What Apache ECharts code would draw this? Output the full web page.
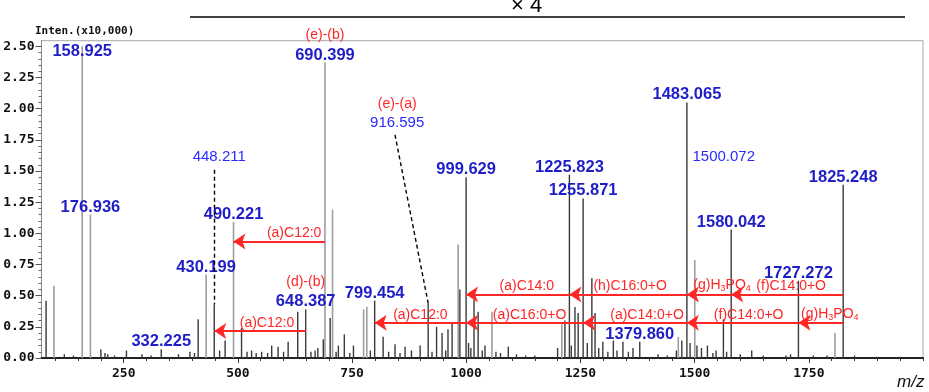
<!DOCTYPE html>
<html>
<head>
<meta charset="utf-8">
<script src="https://cdn.jsdelivr.net/npm/echarts@6/dist/echarts.min.js"></script>
<style>
  html, body { margin: 0; padding: 0; background: #fff; }
  #chart { width: 929px; height: 392px; }
</style>
</head>
<body>
<div id="chart"></div>
<script>
// MS/MS spectrum: m/z against intensity (x10,000)

// light grey peaks
const greyMz  = [97, 158.925, 176.936, 430.199, 490.221, 690.399, 707, 775, 782, 982, 1056, 1209, 1464, 1500.072, 1807];
const greyInt = [0.58, 2.50, 1.15, 0.67, 1.09, 2.37, 1.19, 0.39, 0.41, 0.91, 0.37, 0.27, 0.17, 0.785, 0.20];

// dark peaks
const darkMz  = [80, 120, 140, 200, 209, 215, 230, 256, 290, 310, 332.225, 370, 395, 405, 413, 448.211, 460, 472,
                 508, 520, 530, 540, 552, 565, 574, 588, 600, 610, 631, 648.387, 660, 669, 675, 687, 702, 715, 720,
                 733, 745, 753, 790, 799.454, 818, 830, 844, 855, 866, 880, 899, 916.595, 925, 935, 947, 955, 960,
                 969, 986, 999.629, 1005, 1010, 1017, 1026, 1035, 1041, 1065, 1075, 1092, 1110, 1130, 1150, 1200,
                 1216, 1225.823, 1230, 1238, 1245, 1255.871, 1265, 1275, 1282, 1290, 1299, 1310, 1322, 1330, 1343,
                 1355, 1365, 1379.860, 1420, 1440, 1460, 1472, 1483.065, 1490, 1505, 1515, 1528, 1540, 1547, 1563,
                 1570, 1580.042, 1600, 1625, 1650, 1700, 1710, 1727.272, 1760, 1790, 1825.248, 1850, 1900, 1950];
const darkInt = [0.46, 0.03, 0.02, 0.07, 0.04, 0.03, 0.02, 0.06, 0.03, 0.02, 0.07, 0.03, 0.05, 0.04, 0.31, 0.43, 0.06, 0.14,
                 0.24, 0.05, 0.06, 0.04, 0.05, 0.04, 0.10, 0.09, 0.05, 0.13, 0.37, 0.39, 0.05, 0.06, 0.08, 0.15, 0.32, 0.05, 0.10,
                 0.19, 0.04, 0.10, 0.06, 0.46, 0.17, 0.05, 0.11, 0.04, 0.09, 0.06, 0.10, 0.44, 0.05, 0.25, 0.20, 0.06, 0.23,
                 0.28, 0.55, 1.45, 0.12, 0.08, 0.47, 0.37, 0.06, 0.10, 0.05, 0.04, 0.09, 0.03, 0.02, 0.02, 0.08,
                 0.30, 1.47, 0.10, 0.41, 0.36, 1.28, 0.12, 0.64, 0.36, 0.08, 0.13, 0.05, 0.14, 0.06, 0.13,
                 0.05, 0.08, 0.13, 0.03, 0.02, 0.06, 0.14, 2.05, 0.12, 0.10, 0.08, 0.10, 0.04, 0.06, 0.31,
                 0.05, 1.03, 0.03, 0.06, 0.02, 0.02, 0.03, 0.62, 0.02, 0.02, 1.39, 0.02, 0.01, 0.01];

// annotated peaks
const boldLabels = [158.925, 176.936, 332.225, 430.199, 490.221, 648.387, 690.399, 799.454, 999.629,
                    1225.823, 1255.871, 1379.860, 1483.065, 1580.042, 1727.272, 1825.248];
const thinLabels = [448.211, 916.595, 1500.072];
const pairTags = { 690.399: '(e)-(b)', 916.595: '(e)-(a)', 648.387: '(d)-(b)' };

// neutral losses between peaks (from, to, name, row)
const lossFrom = [690.399, 1225.823, 1483.065, 1580.042, 1825.248, 999.629, 1255.871, 1483.065, 1727.272, 1825.248, 648.387];
const lossTo   = [490.221, 999.629, 1225.823, 1483.065, 1580.042, 799.454, 999.629, 1255.871, 1483.065, 1727.272, 448.211];
const lossName = ['(a)C12:0', '(a)C14:0', '(h)C16:0+O', '(g)H3PO4', '(f)C14:0+O',
                  '(a)C12:0', '(a)C16:0+O', '(a)C14:0+O', '(f)C14:0+O', '(g)H3PO4', '(a)C12:0'];
const lossRow  = [0, 1, 1, 1, 1, 2, 2, 2, 2, 2, 3];

// axis ticks
const xTickLabels = [250, 500, 750, 1000, 1250, 1500, 1750];
const yTickLabels = [0, 0.25, 0.5, 0.75, 1.0, 1.25, 1.5, 1.75, 2.0, 2.25, 2.5];

// ---- layout / style ----
const rowLevel = [0.935, 0.51, 0.283, 0.216];
const lossShift = [30, 18, 4, 26, 8, 0, 10, 24, 12, 18, 14];
const labelNudge = {
  158.925: [0, 15], 448.211: [5, -139], 916.595: [-31, -171], 1500.072: [29, -94]
};
const RED = '#ff2626';
const BLUE = '#1e1ec8';
const BLUE_THIN = '#2a2aff';
const tickFont = 'DejaVu Sans Mono';

function minorSteps(from, to, step) {
  const out = [];
  for (let v = from; v <= to + 1e-9; v += step) out.push(+v.toFixed(3));
  return out;
}

function peakItem(mz, h) {
  const item = { value: [mz, h] };
  const bold = boldLabels.includes(mz);
  const thin = thinLabels.includes(mz);
  if (bold || thin) {
    const tag = pairTags[mz];
    const nudge = labelNudge[mz] || [0, 2];
    const valKey = bold ? 'b' : 't';
    item.label = {
      show: true,
      position: 'top',
      distance: 0,
      offset: nudge,
      formatter: (tag ? '{r|' + tag + '}\n' : '') + '{' + valKey + '|' + mz.toFixed(3) + '}',
      rich: {
        r: { color: RED, fontSize: 14, fontFamily: 'Liberation Sans', lineHeight: 20, align: 'center' },
        b: { color: BLUE, fontSize: 16.5, fontWeight: 'bold', fontFamily: 'Liberation Sans', lineHeight: 19, align: 'center' },
        t: { color: BLUE_THIN, fontSize: 15, fontFamily: 'Liberation Sans', lineHeight: 18, align: 'center' }
      }
    };
  }
  return item;
}

const greyData = greyMz.map((m, i) => peakItem(m, greyInt[i]));
const darkData = darkMz.map((m, i) => peakItem(m, darkInt[i]));

function heightOf(mz) {
  let i = darkMz.indexOf(mz);
  if (i >= 0) return darkInt[i];
  i = greyMz.indexOf(mz);
  return greyInt[i];
}

const lossLines = lossFrom.map((f, i) => {
  const y = rowLevel[lossRow[i]];
  const txt = lossName[i].replace('H3PO4', 'H{s|3}PO{s|4}');
  return [
    { coord: [f, y], label: { formatter: txt, padding: [0, 0, 0, lossShift[i]] } },
    { coord: [lossTo[i], y] }
  ];
});

// dashed leaders from the thin labels down to their peaks
const leaders = [
  [{ coord: [448.211, 1.51] }, { coord: [448.211, heightOf(448.211)] }],
  [{ coord: [844, 1.79] }, { coord: [916.595, heightOf(916.595)] }]
];

const chart = echarts.init(document.getElementById('chart'), null, { renderer: 'canvas' });

chart.setOption({
  animation: false,
  backgroundColor: '#fff',
  grid: { left: 41.5, right: 6, top: 40.7, bottom: 34, show: true, borderColor: '#a8a8a8', borderWidth: 1 },
  xAxis: [
    {
      type: 'value', min: 70, max: 2000, gridIndex: 0,
      axisLine: { show: true, lineStyle: { color: '#222', width: 2 } },
      axisTick: { show: true, inside: false, length: 3, lineStyle: { color: '#333' }, customValues: minorSteps(100, 2000, 50) },
      axisLabel: { customValues: xTickLabels, color: '#111', fontFamily: tickFont, fontWeight: 'bold', fontSize: 13, margin: 9,
                   formatter: v => String(v) },
      splitLine: { show: false }
    },
    {
      type: 'value', min: 70, max: 2000, gridIndex: 0, position: 'bottom',
      axisLine: { show: false },
      axisTick: { show: true, length: 5, lineStyle: { color: '#333' }, customValues: xTickLabels },
      axisLabel: { show: false },
      splitLine: { show: false }
    }
  ],
  yAxis: [
    {
      type: 'value', min: 0, max: 2.545,
      axisLine: { show: true, lineStyle: { color: '#888', width: 1 } },
      axisTick: { show: true, length: 3, lineStyle: { color: '#666' }, customValues: minorSteps(0, 2.5, 0.05) },
      axisLabel: {
        customValues: yTickLabels, color: '#111', fontFamily: tickFont, fontWeight: 'bold', fontSize: 13, margin: 7,
        formatter: v => v.toFixed(2)
      },
      splitLine: { show: false }
    },
    {
      type: 'value', min: 0, max: 2.545, position: 'left',
      axisLine: { show: false },
      axisTick: { show: true, length: 6, lineStyle: { color: '#555' }, customValues: yTickLabels },
      axisLabel: { show: false },
      splitLine: { show: false }
    }
  ],
  series: [
    {
      type: 'bar', name: 'grey', data: greyData, barWidth: 1.6, barGap: '-100%',
      itemStyle: { color: '#9d9d9d' }, z: 2
    },
    {
      type: 'bar', name: 'dark', data: darkData, barWidth: 1.4, barGap: '-100%',
      itemStyle: { color: '#3a3a3a' }, z: 3
    },
    {
      type: 'line', name: 'losses', data: [], z: 5,
      markLine: {
        silent: true,
        symbol: ['none', 'arrow'],
        symbolSize: 12,
        lineStyle: { color: RED, width: 2, type: 'solid' },
        label: {
          show: true, position: 'middle', distance: 1, color: RED, fontSize: 14, fontFamily: 'Liberation Sans',
          rich: { s: { fontSize: 9, color: RED, fontFamily: 'Liberation Sans', padding: [7, 0, 0, 0] } }
        },
        data: lossLines
      }
    },
    {
      type: 'line', name: 'leaders', data: [], z: 4,
      markLine: {
        silent: true,
        symbol: ['none', 'none'],
        lineStyle: { color: '#000', width: 1.4, type: [4, 3] },
        label: { show: false },
        data: leaders
      }
    }
  ],
  graphic: [
    { type: 'text', left: 35, top: 26, style: { text: 'Inten.(x10,000)', fontFamily: tickFont, fontWeight: 'bold', fontSize: 11, fill: '#111' } },
    { type: 'text', left: 897, top: 374, style: { text: 'm/z', fontFamily: 'Liberation Sans', fontStyle: 'italic', fontSize: 17, fill: '#111' } },
    { type: 'line', shape: { x1: 190, y1: 17, x2: 905, y2: 17 }, style: { stroke: '#000', lineWidth: 1.5 } },
    { type: 'text', left: 511, top: -5, style: { text: '× 4', fontFamily: 'Liberation Sans', fontSize: 22, fill: '#000' } }
  ]
});
</script>
</body>
</html>
